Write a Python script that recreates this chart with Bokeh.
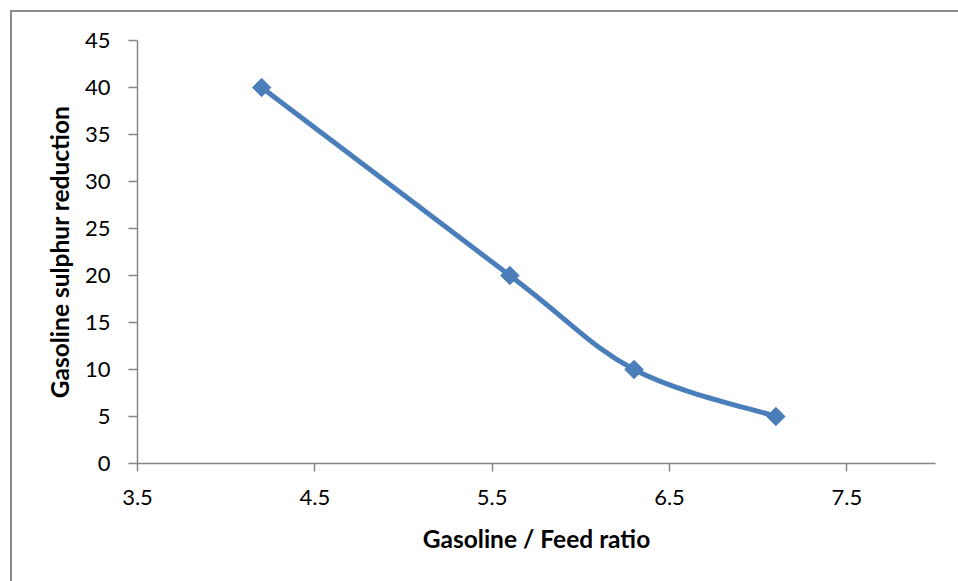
import numpy as np
from bokeh.plotting import figure
from bokeh.models import FixedTicker, ColumnDataSource, InlineStyleSheet
from bokeh.embed import file_html
from bokeh.resources import INLINE

# ---- data ----
ratio = [4.2, 5.6, 6.3, 7.1]
reduction = [40, 20, 10, 5]
x_ticks = [3.5, 4.5, 5.5, 6.5, 7.5]
x_tick_labels = ["3.5", "4.5", "5.5", "6.5", "7.5"]
y_ticks = [0, 5, 10, 15, 20, 25, 30, 35, 40, 45]
y_tick_labels = ["0", "5", "10", "15", "20", "25", "30", "35", "40", "45"]
x_title = "Gasoline / Feed ratio"
y_title = "Gasoline sulphur reduction"

BLUE = "#4A7EBB"
AXIS = "#868686"
FONT = "Lato"

p = figure(width=958, height=581, x_range=(3.5, 8.0), y_range=(0, 45),
           output_backend="svg", toolbar_location=None,
           min_border_left=137, min_border_right=23,
           min_border_top=40, min_border_bottom=118)
p.background_fill_color = "white"
p.border_fill_color = "white"
p.outline_line_color = None
p.xgrid.visible = False
p.ygrid.visible = False

# smoothed line: cubic Bezier segments with control points derived from the data
px = np.array(ratio, dtype=float)
py = np.array(reduction, dtype=float)
n = len(px)
ext_x = np.concatenate([[px[0]], px, [px[-1]]])
ext_y = np.concatenate([[py[0]], py, [py[-1]]])
seg = dict(x0=[], y0=[], x1=[], y1=[], cx0=[], cy0=[], cx1=[], cy1=[])
for i in range(n - 1):
    k = i + 1
    seg["x0"].append(ext_x[k]); seg["y0"].append(ext_y[k])
    seg["x1"].append(ext_x[k + 1]); seg["y1"].append(ext_y[k + 1])
    seg["cx0"].append(ext_x[k] + (ext_x[k + 1] - ext_x[k - 1]) / 6)
    seg["cy0"].append(ext_y[k] + (ext_y[k + 1] - ext_y[k - 1]) / 6)
    seg["cx1"].append(ext_x[k + 1] - (ext_x[k + 2] - ext_x[k]) / 6)
    seg["cy1"].append(ext_y[k + 1] - (ext_y[k + 2] - ext_y[k]) / 6)
p.bezier(x0="x0", y0="y0", x1="x1", y1="y1", cx0="cx0", cy0="cy0",
         cx1="cx1", cy1="cy1", source=ColumnDataSource(seg),
         line_color=BLUE, line_width=5, line_cap="round")

p.scatter(ratio, reduction, marker="square", angle=np.pi / 4, size=13,
          fill_color=BLUE, line_color=BLUE, line_width=1)

# axes
for ax in (p.xaxis[0], p.yaxis[0]):
    ax.axis_line_color = AXIS
    ax.axis_line_width = 1.5
    ax.major_tick_line_color = AXIS
    ax.major_tick_line_width = 1.5
    ax.major_tick_in = 0
    ax.minor_tick_line_color = None
    ax.major_label_text_font = FONT
    ax.major_label_text_font_size = "22px"
    ax.major_label_text_color = "black"
    ax.axis_label_text_font = FONT
    ax.axis_label_text_font_style = "bold"
    ax.axis_label_text_font_size = "24.5px"
    ax.axis_label_text_color = "black"

p.xaxis.ticker = FixedTicker(ticks=x_ticks)
p.xaxis.major_label_overrides = {t: l for t, l in zip(x_ticks, x_tick_labels)}
p.xaxis.major_tick_out = 8
p.xaxis.major_label_standoff = 18
p.xaxis.axis_label = x_title
p.xaxis.axis_label_standoff = 16

p.yaxis.ticker = FixedTicker(ticks=y_ticks)
p.yaxis.major_label_overrides = {t: l for t, l in zip(y_ticks, y_tick_labels)}
p.yaxis.major_tick_out = 9
p.yaxis.major_label_standoff = 18
p.yaxis.axis_label = y_title
p.yaxis.axis_label_standoff = 8

p.stylesheets = [InlineStyleSheet(css=""":host { position: relative; }
:host::after { content: ''; position: absolute; left: 10px; top: 10px;
  right: -20px; bottom: -20px; border: 2px solid #8C8C8C; pointer-events: none; }""")]

open("out.html", "w").write(file_html(p, INLINE))
